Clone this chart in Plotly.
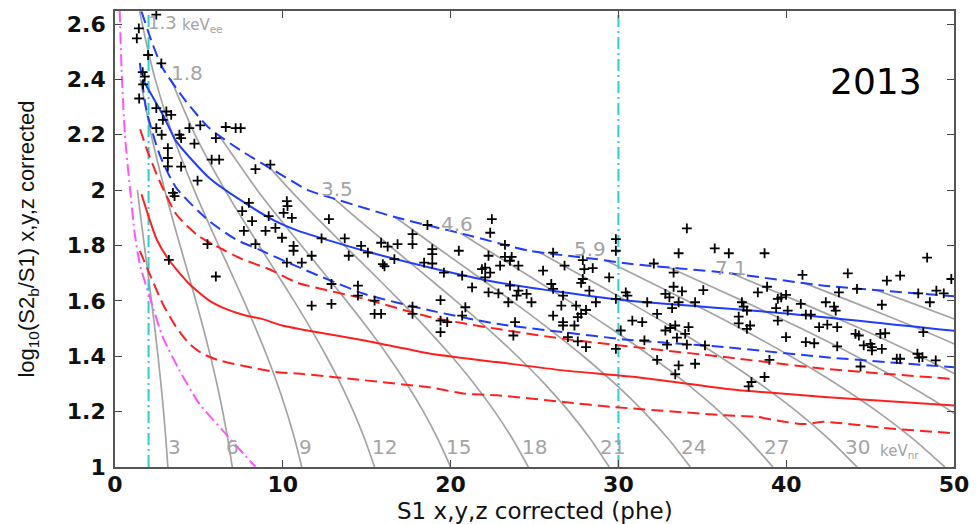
import plotly.graph_objects as go

# ---------------- data ----------------
# candidate events (S1 [phe], log10(S2b/S1))
event_s1 = [2.46,1.42,1.30,1.97,2.76,1.65,1.77,1.67,1.44,2.46,3.06,3.35,2.85,2.46,4.43,5.08,6.60,7.19,7.49,2.78,
            3.84,3.94,4.73,6.01,3.15,3.15,5.76,6.21,3.15,3.94,8.37,9.26,4.92,3.45,3.55,7.98,10.24,10.28,7.58,10.05,
            10.54,8.17,9.16,9.56,8.97,7.68,9.95,5.51,3.21,6.01,8.37,10.24,10.64,10.64,11.13,11.72,11.72,12.75,12.31,13.69,
            14.67,15.07,13.93,15.86,16.25,16.84,17.73,17.73,18.62,18.91,18.91,18.42,18.91,16.65,15.96,16.06,19.60,20.49,22.46,22.36,
            23.24,22.26,23.24,23.64,22.95,22.06,21.87,20.69,22.06,22.36,24.04,23.54,21.28,22.26,22.85,23.54,24.04,24.53,23.94,24.82,
            23.44,25.51,26.11,26.79,27.88,27.97,27.88,28.47,27.78,26.00,26.11,26.70,26.60,28.27,29.45,29.85,29.85,29.85,28.66,27.48,
            28.07,27.78,27.58,26.11,26.70,26.70,27.38,26.99,27.58,28.07,29.85,30.14,30.44,30.54,30.83,23.84,23.74,20.88,20.69,19.40,
            19.40,19.80,19.40,17.73,17.73,15.47,15.47,15.86,14.48,14.48,12.90,12.90,
            34.08,33.59,35.74,36.58,38.71,32.11,33.29,33.29,33.79,32.80,33.04,35.06,31.72,33.20,33.59,34.57,32.31,31.42,32.80,33.09,
            33.39,34.18,33.98,33.49,31.55,32.90,34.08,35.16,32.31,33.59,34.57,33.39,37.36,37.46,37.66,37.17,37.85,37.66,37.17,38.31,
            38.86,39.00,38.71,37.93,37.76,39.40,39.50,39.70,39.99,39.50,40.09,39.99,40.97,40.87,41.17,41.47,41.17,41.67,41.96,42.45,
            42.36,42.85,42.95,43.14,43.04,43.04,43.67,44.22,44.13,44.33,44.62,45.02,45.11,45.11,45.70,45.61,45.90,45.70,46.00,46.79,
            44.43,46.59,46.79,47.82,47.92,48.12,48.91,48.17,47.87,48.56,48.95,49.39,48.40,49.84]
event_y = [2.634,2.584,2.548,2.488,2.458,2.426,2.410,2.382,2.331,2.296,2.284,2.272,2.254,2.224,2.224,2.234,2.228,2.224,2.224,2.200,
           2.200,2.188,2.168,2.188,2.152,2.116,2.110,2.110,2.086,2.085,2.076,2.092,2.034,1.990,1.978,1.954,1.960,1.942,1.924,1.918,
           1.900,1.888,1.906,1.864,1.853,1.853,1.828,1.805,1.748,1.688,1.805,1.738,1.799,1.781,1.738,1.763,1.583,1.895,1.826,1.826,
           1.799,1.774,1.763,1.810,1.796,1.805,1.805,1.841,1.874,1.787,1.769,1.738,1.735,1.751,1.733,1.725,1.702,1.781,1.895,1.846,
           1.802,1.763,1.759,1.759,1.727,1.720,1.715,1.691,1.685,1.702,1.727,1.745,1.649,1.631,1.627,1.655,1.637,1.625,1.619,1.595,
           1.595,1.709,1.774,1.727,1.747,1.715,1.679,1.718,1.665,1.661,1.643,1.619,1.583,1.637,1.685,1.823,1.781,1.607,1.595,1.583,
           1.567,1.553,1.541,1.547,1.523,1.511,1.511,1.469,1.454,1.433,1.427,1.493,1.631,1.619,1.529,1.523,1.475,1.577,1.547,1.603,
           1.529,1.523,1.487,1.579,1.553,1.601,1.553,1.553,1.655,1.619,1.661,1.589,
           1.862,1.772,1.790,1.772,1.772,1.735,1.702,1.651,1.634,1.625,1.613,1.639,1.595,1.574,1.595,1.595,1.553,1.523,1.493,1.502,
           1.511,1.505,1.481,1.467,1.457,1.442,1.442,1.439,1.387,1.367,1.373,1.335,1.595,1.579,1.565,1.543,1.511,1.499,1.519,1.631,
           1.651,1.387,1.325,1.307,1.291,1.574,1.607,1.613,1.622,1.529,1.565,1.469,1.694,1.589,1.550,1.550,1.451,1.447,1.505,1.514,
           1.595,1.579,1.565,1.631,1.505,1.436,1.699,1.643,1.481,1.475,1.439,1.445,1.433,1.421,1.427,1.481,1.483,1.586,1.673,1.691,
           1.363,1.391,1.391,1.409,1.395,1.397,1.385,1.487,1.627,1.595,1.637,1.627,1.756,1.679]

# ER band (blue): median and 10%/90% bounds
er_mid_x = [1.65,2.85,3.65,5.62,7.58,9.56,10.93,14.9,18.8,22.75,26.7,30.5,40.3,50]
er_mid_y = [2.40,2.272,2.176,2.044,1.960,1.888,1.853,1.78,1.72,1.667,1.631,1.601,1.553,1.492]
er_hi_x = [1.58,2.26,2.85,4.24,5.62,7.58,9.56,11.5,12.9,16.84,20.8,24.7,28.66,30.8,36.35,42.26,50]
er_hi_y = [2.645,2.524,2.44,2.32,2.224,2.14,2.068,2.0,1.972,1.90,1.841,1.781,1.751,1.733,1.702,1.655,1.617]
er_lo_x = [1.48,1.87,2.66,3.65,5.62,7.2,8.6,10.7,14.88,18.81,22.75,26.7,30.5,36.35,42.26,50]
er_lo_y = [2.46,2.29,2.128,2.008,1.888,1.822,1.785,1.728,1.625,1.565,1.517,1.487,1.46,1.433,1.397,1.36]

# NR band (red): median and bounds
nr_mid_x = [1.58,2.0,2.5,3.25,4.43,5.62,6.6,7.78,8.76,9.95,11.2,14.88,18.81,22.75,26.7,31,36.35,42.26,50]
nr_mid_y = [1.985,1.905,1.82,1.745,1.661,1.601,1.571,1.547,1.535,1.511,1.496,1.457,1.409,1.379,1.349,1.325,1.283,1.253,1.222]
nr_hi_x = [1.5,1.87,2.66,3.65,4.9,6.21,7.58,9.16,10.9,14.88,18.81,22.75,26.7,31,36.35,42.26,50]
nr_hi_y = [2.22,2.152,2.032,1.913,1.838,1.792,1.751,1.715,1.665,1.607,1.541,1.499,1.463,1.433,1.397,1.355,1.318]
nr_lo_x = [1.48,2.07,2.85,3.65,4.43,5.22,6.21,7.98,9.56,11.2,14.88,18.81,20.8,22.75,26.7,29.65,36.35,38.3,39.3,41.07,42.26,46.2,50]
nr_lo_y = [1.781,1.697,1.589,1.505,1.445,1.409,1.385,1.361,1.343,1.336,1.313,1.287,1.265,1.259,1.235,1.217,1.187,1.181,1.169,1.155,1.163,1.139,1.122]

# S1 threshold curve (magenta)
thr_x = [0.28,0.39,0.59,0.89,1.18,1.48,2.07,2.85,3.84,5.02,6.4,8.37]
thr_y = [2.65,2.44,2.2,2.008,1.841,1.733,1.613,1.469,1.349,1.229,1.133,1.0]

# S1 analysis window (cyan)
window_s1 = [2, 30]

# constant-energy contours (keVnr)
contour_kev = [3, 6, 9, 12, 15, 18, 21, 24, 27, 30, 33, 36, 39, 42, 45]
contour_x = [
    [1.336,1.538,1.748,1.962,2.172,2.375,2.564,2.738,2.894,3.031,3.150],
    [1.505,2.156,2.963,3.411,3.878,4.352,4.819,5.268,5.689,6.075,6.421,6.725,6.988],
    [1.475,1.623,2.398,3.434,4.719,5.434,6.178,6.932,7.676,8.391,9.062,9.677,10.228,10.712,11.131],
    [3.333,4.772,6.559,7.552,8.586,9.634,10.668,11.662,12.594,13.449,14.214,14.887,15.469],
    [6.171,8.481,9.766,11.103,12.457,13.795,15.080,16.285,17.390,18.381,19.250,20.003],
    [9.3,10.443,12.025,13.671,15.339,16.986,18.569,20.053,21.413,22.632,23.703,24.631],
    [13.0,14.379,16.348,18.342,20.311,22.204,23.979,25.605,27.063,28.344,29.453],
    [16.7,19.029,21.350,23.643,25.846,27.912,29.805,31.503,32.993,34.284],
    [20.6,21.763,24.417,27.039,29.559,31.921,34.086,36.027,37.732,39.209],
    [25.3,27.542,30.499,33.342,36.006,38.449,40.638,42.561,44.226],
    [29.2,30.799,34.106,37.285,40.264,42.995,45.444,47.594,49.456],
    [33.0,33.786,37.414,40.901,44.170,47.166,49.852,52.210],
    [36.8,40.635,44.422,47.971,51.225],
    [41.0,43.796,47.878,51.704],
    [45.3,47.134,51.527],
]
contour_y = [
    [2.0,1.9,1.8,1.7,1.6,1.5,1.4,1.3,1.2,1.1,1.0],
    [2.4,2.2,2.0,1.9,1.8,1.7,1.6,1.5,1.4,1.3,1.2,1.1,1.0],
    [2.647,2.6,2.4,2.2,2.0,1.9,1.8,1.7,1.6,1.5,1.4,1.3,1.2,1.1,1.0],
    [2.4,2.2,2.0,1.9,1.8,1.7,1.6,1.5,1.4,1.3,1.2,1.1,1.0],
    [2.2,2.0,1.9,1.8,1.7,1.6,1.5,1.4,1.3,1.2,1.1,1.0],
    [2.076,2.0,1.9,1.8,1.7,1.6,1.5,1.4,1.3,1.2,1.1,1.0],
    [1.972,1.9,1.8,1.7,1.6,1.5,1.4,1.3,1.2,1.1,1.0],
    [1.902,1.8,1.7,1.6,1.5,1.4,1.3,1.2,1.1,1.0],
    [1.844,1.8,1.7,1.6,1.5,1.4,1.3,1.2,1.1,1.0],
    [1.775,1.7,1.6,1.5,1.4,1.3,1.2,1.1,1.0],
    [1.748,1.7,1.6,1.5,1.4,1.3,1.2,1.1,1.0],
    [1.721,1.7,1.6,1.5,1.4,1.3,1.2,1.1],
    [1.698,1.6,1.5,1.4,1.3],
    [1.666,1.6,1.5,1.4],
    [1.640,1.6,1.5],
]

# contour labels
nr_label_text = ["3", "6", "9", "12", "15", "18", "21", "24", "27", "30"]
nr_label_x = [3.55, 7.00, 11.33, 16.05, 20.49, 25.01, 29.65, 34.47, 39.40, 44.24]
nr_label_y = 1.073
ee_label_text = ["1.8", "3.5", "4.6", "5.9", "7.1"]
ee_label_x = [4.28, 13.2, 20.39, 28.31, 36.7]
ee_label_y = [2.422, 2.003, 1.877, 1.787, 1.72]

x_ticks = [0, 10, 20, 30, 40, 50]
y_ticks = [1.0, 1.2, 1.4, 1.6, 1.8, 2.0, 2.2, 2.4, 2.6]
y_tick_text = ["1", "1.2", "1.4", "1.6", "1.8", "2", "2.2", "2.4", "2.6"]

# ---------------- figure ----------------
GRAY = "#a4a4a4"
BLUE = "#1f3cff"
RED = "#ff1f1f"

fig = go.Figure()

for xs, ys in zip(contour_x, contour_y):
    fig.add_trace(go.Scatter(x=xs, y=ys, mode="lines",
                             line=dict(color=GRAY, width=1.7, shape="spline", smoothing=0.6),
                             hoverinfo="skip"))

for s1 in window_s1:
    fig.add_trace(go.Scatter(x=[s1, s1], y=[1.0, 2.647], mode="lines",
                             line=dict(color="#33cccc", width=2, dash="12px,4px,2px,4px")))

fig.add_trace(go.Scatter(x=thr_x, y=thr_y, mode="lines",
                         line=dict(color="#ff55ff", width=2, dash="12px,4px,2px,4px", shape="spline", smoothing=0.6)))

fig.add_trace(go.Scatter(x=nr_hi_x, y=nr_hi_y, mode="lines",
                         line=dict(color=RED, width=2, dash="12px,6px", shape="spline", smoothing=0.6)))
fig.add_trace(go.Scatter(x=nr_lo_x, y=nr_lo_y, mode="lines",
                         line=dict(color=RED, width=2, dash="12px,6px", shape="spline", smoothing=0.6)))
fig.add_trace(go.Scatter(x=nr_mid_x, y=nr_mid_y, mode="lines",
                         line=dict(color=RED, width=2, shape="spline", smoothing=0.6)))

fig.add_trace(go.Scatter(x=er_hi_x, y=er_hi_y, mode="lines",
                         line=dict(color=BLUE, width=2, dash="12px,6px", shape="spline", smoothing=0.6)))
fig.add_trace(go.Scatter(x=er_lo_x, y=er_lo_y, mode="lines",
                         line=dict(color=BLUE, width=2, dash="12px,6px", shape="spline", smoothing=0.6)))
fig.add_trace(go.Scatter(x=er_mid_x, y=er_mid_y, mode="lines",
                         line=dict(color=BLUE, width=2, shape="spline", smoothing=0.6)))

fig.add_trace(go.Scatter(x=event_s1, y=event_y, mode="markers",
                         marker=dict(symbol="cross-thin", size=7, color="black",
                                     line=dict(color="black", width=1.8))))

annotations = []
label_font = dict(family="DejaVu Sans", size=20, color=GRAY)
for t, x in zip(nr_label_text, nr_label_x):
    annotations.append(dict(x=x, y=nr_label_y, xref="x", yref="y", text=t, showarrow=False,
                            font=label_font, xanchor="center", yanchor="middle"))
annotations.append(dict(x=45.5, y=1.056, xref="x", yref="y", text="keV<sub>nr</sub>", showarrow=False,
                        font=dict(family="DejaVu Sans", size=15, color=GRAY), xanchor="left", yanchor="middle"))
for t, x, y in zip(ee_label_text, ee_label_x, ee_label_y):
    annotations.append(dict(x=x, y=y, xref="x", yref="y", text=t, showarrow=False,
                            font=label_font, xanchor="center", yanchor="middle"))
annotations.append(dict(x=2.81, y=2.604, xref="x", yref="y", text="1.3", showarrow=False,
                        font=dict(family="DejaVu Sans", size=18, color=GRAY), xanchor="center", yanchor="middle"))
annotations.append(dict(x=3.9, y=2.594, xref="x", yref="y", text="keV<sub>ee</sub>", showarrow=False,
                        font=dict(family="DejaVu Sans", size=15, color=GRAY), xanchor="left", yanchor="middle"))
annotations.append(dict(x=45.33, y=2.392, xref="x", yref="y", text="2013", showarrow=False,
                        font=dict(family="DejaVu Sans", size=36, color="black"), xanchor="center", yanchor="middle"))
# x-axis title placed just under the tick labels
annotations.append(dict(x=0.5, y=0, xref="paper", yref="paper", yshift=-29,
                        text="S1 x,y,z corrected (phe)", showarrow=False,
                        font=dict(family="DejaVu Sans", size=23, color="#111"),
                        xanchor="center", yanchor="top"))

axis_common = dict(ticks="inside", ticklen=7, tickwidth=1.3, tickcolor="#444",
                   showline=True, linecolor="#555", linewidth=1.6, mirror="ticks",
                   showgrid=False, zeroline=False,
                   tickfont=dict(family="DejaVu Sans", size=22, color="#111", weight="bold"))

fig.update_layout(
    width=978, height=524,
    margin=dict(l=115, r=17, t=9, b=57),
    paper_bgcolor="white", plot_bgcolor="white",
    showlegend=False,
    hovermode=False,
    annotations=annotations,
    xaxis=dict(range=[0, 50], tickvals=x_ticks, ticklabelstandoff=-3, **axis_common),
    yaxis=dict(range=[1.0, 2.647], tickvals=y_ticks, ticktext=y_tick_text, ticklabelstandoff=3,
               title=dict(text="log<sub>10</sub>(S2<sub>b</sub>/S1) x,y,z corrected",
                          font=dict(family="Liberation Sans", size=22, color="#111"), standoff=26),
               **axis_common),
)

fig.write_html("out.html", config={"displayModeBar": False},
               post_script="document.body.style.margin='0';document.body.style.overflow='hidden';")
